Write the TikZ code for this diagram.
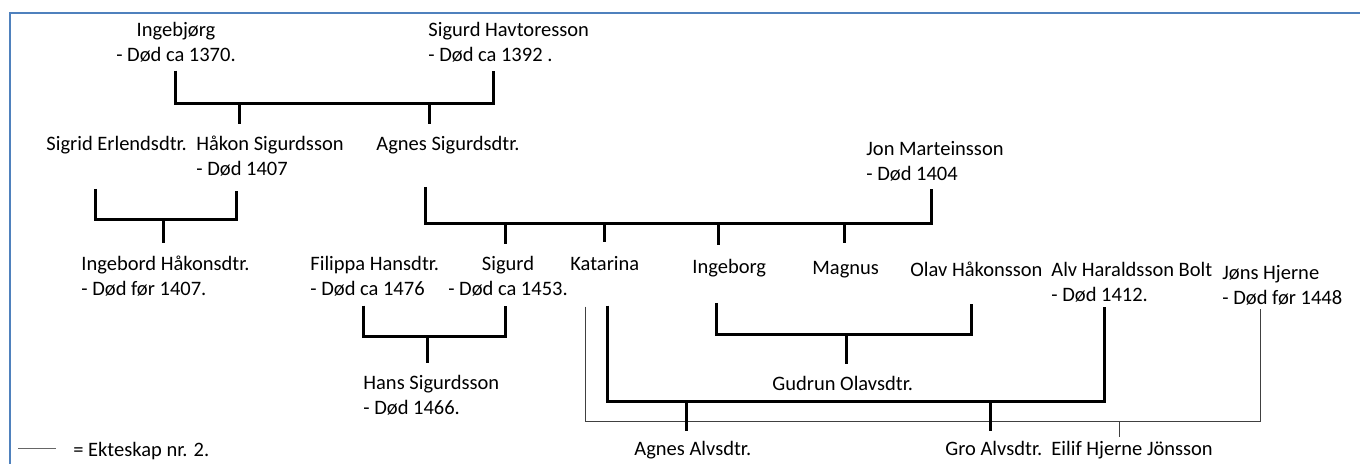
\documentclass[tikz,border=0pt]{standalone}
\usepackage{fontspec}
\setmainfont{Carlito}
\definecolor{frameblue}{RGB}{79,129,189}

\begin{document}
\begin{tikzpicture}
[
    x = 0.5pt, y = -0.5pt,
    every node/.append style = {inner sep = 0, font = \fontsize{10.25}{12.25}\selectfont},
    person/.style = {anchor = base west, align = left},
    pair/.style = {anchor = base, align = center},
    wed/.style = {line width = 1.5pt},
    wedtwo/.style = {line width = 0.5pt, black!75},
    keyline/.style = {line width = 0.5pt, black!60},
    frame/.style = {line width = 1pt, frameblue}]

\useasboundingbox[fill = white] (0,0) rectangle (1360,464);
\draw[frame] (9.5,464) |- (1360,13.5);

\node[pair]   (ingebjorg) at (176,61.5)   {Ingebjørg\\- Død ca 1370.};
\node[person] (sigurdH)   at (428,61.5)   {Sigurd Havtoresson\\- Død ca 1392 .};
\node[person] (sigrid)    at (46,151)     {Sigrid Erlendsdtr.};
\node[person] (hakon)     at (196,175.5)  {Håkon Sigurdsson\\- Død 1407};
\node[person] (agnesS)    at (376,151)    {Agnes Sigurdsdtr.};
\node[person] (jon)       at (866,180.5)  {Jon Marteinsson\\- Død 1404};
\node[person] (ingebord)  at (81,295.5)   {Ingebord Håkonsdtr.\\- Død før 1407.};
\node[person] (filippa)   at (310,295.5)  {Filippa Hansdtr.\\- Død ca 1476};
\node[pair]   (sigurd)    at (508,295.5)  {Sigurd\\- Død ca 1453.};
\node[person] (katarina)  at (570,271)    {Katarina};
\node[person] (ingeborg)  at (692,274)    {Ingeborg};
\node[person] (magnus)    at (812,275)    {Magnus};
\node[person] (olav)      at (910,277)    {Olav Håkonsson};
\node[person] (alv)       at (1051,301.5) {Alv Haraldsson Bolt\\- Død 1412.};
\node[person] (jons)      at (1222,304.5) {Jøns Hjerne\\- Død før 1448};
\node[person] (hans)      at (363,414.5)  {Hans Sigurdsson\\- Død 1466.};
\node[person] (gudrun)    at (772,391)    {Gudrun Olavsdtr.};
\node[person] (agnesA)    at (634,456)    {Agnes Alvsdtr.};
\node[person] (gro)       at (945,456)    {Gro Alvsdtr.};
\node[person] (eilif)     at (1051,456)   {Eilif Hjerne Jönsson};
\node[person] (key)       at (73,457)     {= Ekteskap nr. 2.};

\coordinate (b1l) at (175,104);  \coordinate (b1r) at (493,104);
\coordinate (d1a) at (239,104);  \coordinate (d1b) at (429,104);
\coordinate (b2l) at (95,220);   \coordinate (b2r) at (236,220);
\coordinate (d2)  at (163,220);
\coordinate (b3l) at (425,224);  \coordinate (b3r) at (931,224);
\coordinate (d3a) at (505,224);  \coordinate (d3b) at (604,224);
\coordinate (d3c) at (718,224);  \coordinate (d3d) at (844,224);
\coordinate (b4l) at (363,337);  \coordinate (b4r) at (505,337);
\coordinate (d4)  at (427,337);
\coordinate (b5l) at (716,335);  \coordinate (b5r) at (971,335);
\coordinate (d5)  at (846,335);
\coordinate (b6l) at (607,402);  \coordinate (b6r) at (1104,402);
\coordinate (d6a) at (686,402);  \coordinate (d6b) at (990,402);
\coordinate (b7l) at (585,421.5); \coordinate (b7r) at (1260,421.5);
\coordinate (d7)  at (1119,421.5);
\coordinate (k0)  at (18,449);

\draw[wed, shorten <= 4pt, shorten >= 4pt] (b1l |- ingebjorg.south) -- (b1l) -- (b1r) -- (b1r |- sigurdH.south);
\draw[wed, shorten >= 6pt] (d1a) -- (d1a |- hakon.north);
\draw[wed, shorten >= 6pt] (d1b) -- (d1b |- agnesS.north);

\draw[wed, shorten <= 17pt, shorten >= 7pt] (b2l |- sigrid.south) -- (b2l) -- (b2r) -- (b2r |- hakon.south);
\draw[wed, shorten >= 6.5pt] (d2) -- (d2 |- ingebord.north);

\draw[wed, shorten <= 16pt, shorten >= 3.5pt] (b3l |- agnesS.south) -- (b3l) -- (b3r) -- (b3r |- jon.south);
\draw[wed, shorten >= 6pt] (d3a) -- (d3a |- sigurd.north);
\draw[wed, shorten >= 7pt] (d3b) -- (d3b |- katarina.north);
\draw[wed, shorten >= 7pt] (d3c) -- (d3c |- ingeborg.north);
\draw[wed, shorten >= 9pt] (d3d) -- (d3d |- magnus.north);

\draw[wed, shorten <= 4.5pt, shorten >= 4.5pt] (b4l |- filippa.south) -- (b4l) -- (b4r) -- (b4r |- sigurd.south);
\draw[wed, shorten >= 6pt] (d4) -- (d4 |- hans.north);

\draw[wed, shorten <= 12.5pt, shorten >= 13pt] (b5l |- ingeborg.south) -- (b5l) -- (b5r) -- (b5r |- olav.south);
\draw[wed, shorten >= 6pt] (d5) -- (d5 |- gudrun.north);

\draw[wedtwo, shorten <= 17.5pt, shorten >= 1.5pt] (b7l |- katarina.south) -- (b7l) -- (b7r) -- (b7r |- jons.south);
\draw[wedtwo, shorten >= 2.3pt] (d7) -- (d7 |- eilif.north);

\draw[wed, shorten <= 17pt, shorten >= 2pt] (b6l |- katarina.south) -- (b6l) -- (b6r) -- (b6r |- alv.south);
\draw[wed, shorten >= 5pt] (d6a) -- (d6a |- agnesA.north);
\draw[wed, shorten >= 5pt] (d6b) -- (d6b |- gro.north);

\draw[keyline] (k0) -- ++(38,0);

\end{tikzpicture}
\end{document}
